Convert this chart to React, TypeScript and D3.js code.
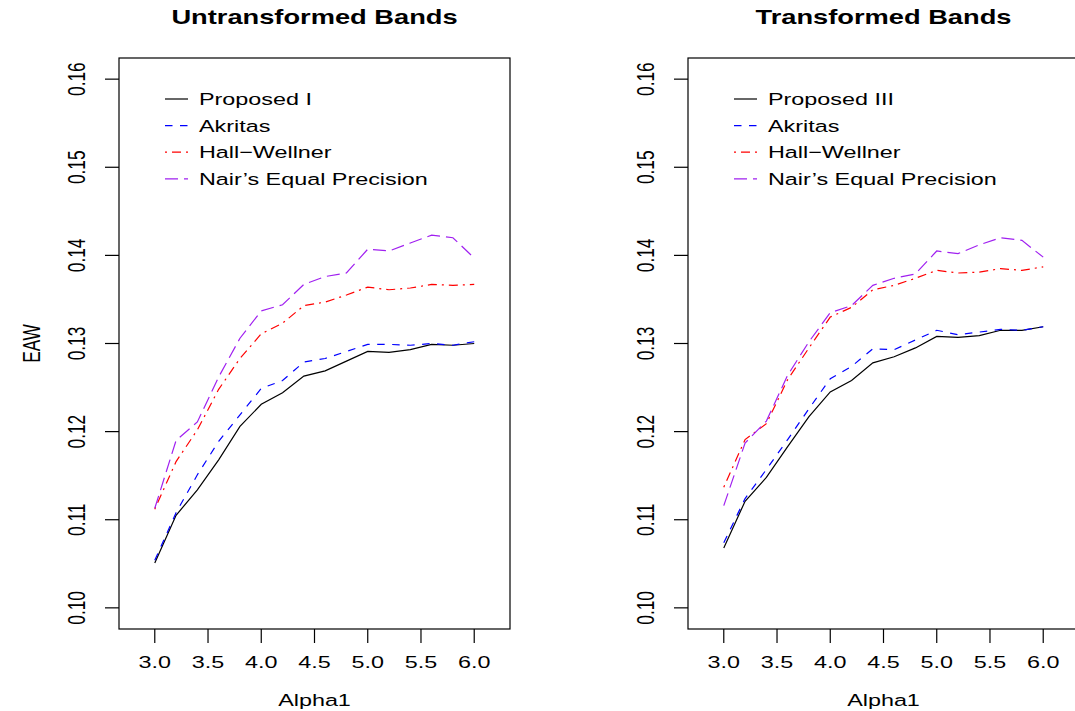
import React from 'react';
import * as d3 from 'd3';

const alpha = [3.0, 3.2, 3.4, 3.6, 3.8, 4.0, 4.2, 4.4, 4.6, 4.8, 5.0, 5.2, 5.4, 5.6, 5.8, 6.0];

// untransformed bands
const proposedI = [0.1051, 0.1105, 0.1134, 0.1168, 0.1206, 0.1231, 0.1244, 0.1263, 0.1269, 0.128, 0.1291, 0.129, 0.1293, 0.1299, 0.1298, 0.13];
const akritasU = [0.1054, 0.1108, 0.1151, 0.1189, 0.1219, 0.1249, 0.1258, 0.1279, 0.1283, 0.1291, 0.1299, 0.1299, 0.1298, 0.13, 0.1298, 0.1302];
const hallU = [0.1112, 0.1166, 0.1202, 0.1248, 0.1283, 0.1311, 0.1323, 0.1343, 0.1347, 0.1355, 0.1364, 0.1361, 0.1363, 0.1367, 0.1366, 0.1367];
const nairU = [0.1113, 0.119, 0.1211, 0.1262, 0.1306, 0.1337, 0.1344, 0.1367, 0.1376, 0.138, 0.1407, 0.1405, 0.1414, 0.1423, 0.142, 0.1397];

// transformed bands
const proposedIII = [0.1068, 0.1121, 0.1148, 0.1183, 0.1217, 0.1245, 0.1258, 0.1278, 0.1285, 0.1295, 0.1308, 0.1307, 0.1309, 0.1315, 0.1315, 0.1319];
const akritasT = [0.1074, 0.1124, 0.1157, 0.1191, 0.1226, 0.126, 0.1274, 0.1294, 0.1293, 0.1304, 0.1315, 0.131, 0.1313, 0.1316, 0.1315, 0.1319];
const hallT = [0.1137, 0.1191, 0.1209, 0.1259, 0.1295, 0.133, 0.1341, 0.1361, 0.1366, 0.1374, 0.1383, 0.138, 0.1381, 0.1385, 0.1383, 0.1387];
const nairT = [0.1116, 0.1187, 0.1212, 0.1264, 0.1302, 0.1335, 0.1343, 0.1366, 0.1374, 0.1379, 0.1405, 0.1402, 0.1412, 0.142, 0.1417, 0.1398];

const xTicks = [3.0, 3.5, 4.0, 4.5, 5.0, 5.5, 6.0];
const yTicks = [0.1, 0.11, 0.12, 0.13, 0.14, 0.15, 0.16];

const styles = [
  { color: '#000000', dash: null },
  { color: '#0000FF', dash: '7.5,7.5' },
  { color: '#FF0000', dash: '2,5,9,5' },
  { color: '#A020F0', dash: '13,6' },
];

const FONT = '"Liberation Sans", Arial, Helvetica, sans-serif';
const SX = 1.35; // the picture is stretched sideways

const T = ({ x, y, size, rotate = false, anchor = 'middle', bold = false, children }: any) => (
  <text
    transform={`translate(${x},${y}) scale(${SX},1)${rotate ? ' rotate(-90)' : ''}`}
    fontFamily={FONT}
    fontSize={size}
    fontWeight={bold ? 'bold' : 'normal'}
    textAnchor={anchor}
    fill="#000"
  >
    {children}
  </text>
);

const Panel = ({ left, title, names, series, ylab }: any) => {
  const right = left + 391;
  const top = 58;
  const bottom = 629;
  // R style: xlim c(2.8, 6.2), ylim c(0.10, 0.16), both padded 4%
  const x = d3.scaleLinear().domain([2.8 - 0.136, 6.2 + 0.136]).range([left, right]);
  const y = d3.scaleLinear().domain([0.1 - 0.0024, 0.16 + 0.0024]).range([bottom, top]);
  const line = d3.line<number>().x((_, i) => x(alpha[i])).y(d => y(d));
  const cx = (left + right) / 2;

  return (
    <g>
      <T x={cx} y={24} size={20.2} bold>{title}</T>
      <rect x={left} y={top} width={right - left} height={bottom - top} fill="none" stroke="#000" strokeWidth={1.2} />
      {series.map((s: number[], i: number) => (
        <path key={i} d={line(s) || ''} fill="none" stroke={styles[i].color}
          strokeWidth={1.2} strokeDasharray={styles[i].dash || undefined} />
      ))}
      {xTicks.map(t => (
        <g key={t}>
          <line x1={x(t)} x2={x(t)} y1={bottom} y2={bottom + 14} stroke="#000" strokeWidth={1.2} />
          <T x={x(t)} y={668} size={17.3}>{t.toFixed(1)}</T>
        </g>
      ))}
      {yTicks.map(t => (
        <g key={t}>
          <line x1={left - 14} x2={left} y1={y(t)} y2={y(t)} stroke="#000" strokeWidth={1.2} />
          <T x={left - 34} y={y(t)} size={17.3} rotate>{t.toFixed(2)}</T>
        </g>
      ))}
      <T x={cx} y={706} size={17.3}>Alpha1</T>
      {ylab && <T x={40} y={(top + bottom) / 2} size={17.3} rotate>{ylab}</T>}
      {names.map((n: string, i: number) => {
        const ly = 99 + i * 26.6;
        return (
          <g key={n}>
            <line x1={left + 46} x2={left + 69} y1={ly} y2={ly} stroke={styles[i].color}
              strokeWidth={1.2} strokeDasharray={styles[i].dash || undefined} />
            <T x={left + 80} y={ly + 6} size={17.3} anchor="start">{n}</T>
          </g>
        );
      })}
    </g>
  );
};

export default function App() {
  return (
    <svg width={1075} height={711} style={{ position: 'absolute', left: 0, top: 0, background: '#fff' }}>
      <rect width={1075} height={711} fill="#fff" />
      <Panel left={119} title="Untransformed Bands" ylab="EAW"
        names={['Proposed I', 'Akritas', 'Hall\u2212Wellner', 'Nair\u2019s Equal Precision']}
        series={[proposedI, akritasU, hallU, nairU]} />
      <Panel left={688} title="Transformed Bands"
        names={['Proposed III', 'Akritas', 'Hall\u2212Wellner', 'Nair\u2019s Equal Precision']}
        series={[proposedIII, akritasT, hallT, nairT]} />
    </svg>
  );
}
